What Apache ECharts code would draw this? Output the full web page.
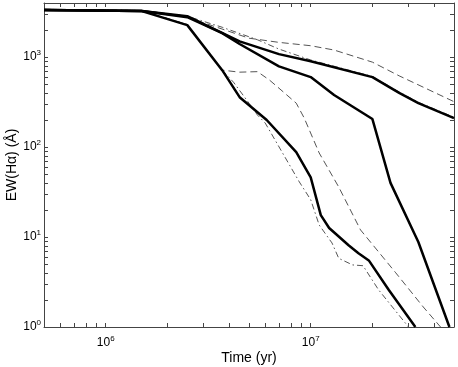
<!DOCTYPE html>
<html>
<head>
<meta charset="UTF-8">
<title>EW(Ha) vs time</title>
<script src="https://cdn.jsdelivr.net/npm/echarts@6/dist/echarts.min.js"></script>
<style>
  html, body { margin: 0; padding: 0; background: #fff; }
</style>
</head>
<body>
    <div id="main" style="width: 458px; height: 367px;"></div>
    <script>
        // [time (yr), EW(Halpha) (A)]
        var solidA = [[5e5, 3350], [1.5e6, 3250], [2.5e6, 2850], [4.5e6, 1500], [7e6, 1080], [1e7, 900],
            [2e7, 600], [2.7e7, 400], [3.35e7, 308], [5e7, 210]];
        var solidB = [[5e5, 3350], [1.5e6, 3250], [2.5e6, 2780], [3.7e6, 1850], [4.5e6, 1400], [7e6, 790],
            [1e7, 600], [1.3e7, 380], [2e7, 205], [2.45e7, 40], [3.35e7, 8.8], [4.75e7, 1]];
        var solidD = [[5e5, 3350], [1.5e6, 3250], [2.5e6, 2270], [3.7e6, 717], [4.5e6, 359], [6.1e6, 200],
            [8.5e6, 88], [1e7, 46], [1.12e7, 17.5], [1.23e7, 12.6], [1.53e7, 8.1], [1.71e7, 6.6],
            [1.92e7, 5.5], [2.4e7, 2.6], [3.24e7, 1]];
        var dashed1 = [[5e5, 3400], [1.5e6, 3300], [2.5e6, 2780], [5e6, 1625], [7e6, 1460], [1e7, 1340],
            [1.3e7, 1200], [2e7, 880], [2.7e7, 620], [5e7, 320]];
        var dashed2 = [[5e5, 3380], [1.5e6, 3280], [2.5e6, 2300], [3.7e6, 717], [4.5e6, 681], [5.5e6, 690],
            [6.3e6, 555], [7e6, 452], [8.5e6, 308], [9.3e6, 210], [1.1e7, 86], [1.37e7, 36],
            [1.75e7, 12], [2.6e7, 4.0], [3.54e7, 1.67], [4.3e7, 1]];
        var dashdot1 = [[5e5, 3400], [1.5e6, 3300], [2.5e6, 2850], [3.7e6, 2150], [5.5e6, 1560], [7e6, 1230],
            [1e7, 930], [2e7, 610], [2.7e7, 410], [3.35e7, 315], [5e7, 215]];
        var dashdot2 = [[5e5, 3380], [1.5e6, 3280], [2.5e6, 2300], [3.7e6, 717], [4.2e6, 527], [5e6, 308],
            [5.5e6, 227], [6e6, 185], [8.8e6, 41], [1e7, 26], [1.1e7, 13.6], [1.27e7, 8.6],
            [1.37e7, 5.8], [1.6e7, 4.9], [1.8e7, 4.8], [2.14e7, 2.6], [3e7, 1]];

        var xLabels = [1e6, 1e7];
        var xTicks = [6e5, 7e5, 8e5, 9e5, 1e6, 2e6, 3e6, 4e6, 5e6, 6e6, 7e6, 8e6, 9e6, 1e7, 2e7, 3e7, 4e7, 5e7];
        var yLabels = [1, 10, 100, 1000];
        var yTicks = [1, 2, 3, 4, 5, 6, 7, 8, 9, 10, 20, 30, 40, 50, 60, 70, 80, 90,
            100, 200, 300, 400, 500, 600, 700, 800, 900, 1000, 2000, 3000, 4000];

        var myChart = echarts.init(document.getElementById("main"));

        var axisColor = '#444';
        var font = 'Liberation Sans, Arial, sans-serif';

        function powLabel(v) {
            return '10{s|' + Math.round(Math.log10(v)) + '}';
        }
        var labelRich = {
            s: { fontSize: 8, fontFamily: font, color: '#000', verticalAlign: 'top', lineHeight: 8 }
        };

        function makeX(pos, withLabels) {
            return {
                type: 'log', logBase: 10, min: 5e5, max: 5e7, position: pos,
                name: withLabels ? 'Time (yr)' : '',
                nameLocation: 'middle', nameGap: 24, nameMoveOverlap: false,
                nameTextStyle: { fontSize: 14, fontFamily: font, color: '#000' },
                axisLine: { show: true, lineStyle: { color: axisColor, width: 1 } },
                axisTick: { show: true, inside: true, length: 4, customValues: xTicks,
                    lineStyle: { color: axisColor } },
                minorTick: { show: false },
                axisLabel: { show: withLabels, customValues: xLabels, formatter: powLabel, margin: 8,
                    fontSize: 12, lineHeight: 16, fontFamily: font, color: '#000', rich: labelRich },
                splitLine: { show: false }
            };
        }
        function makeY(pos, withLabels) {
            return {
                type: 'log', logBase: 10, min: 1, max: 4000, position: pos,
                name: withLabels ? 'EW(Hα) (Å)' : '',
                nameLocation: 'middle', nameGap: 25, nameMoveOverlap: false,
                nameTextStyle: { fontSize: 14, fontFamily: font, color: '#000' },
                axisLine: { show: true, lineStyle: { color: axisColor, width: 1 } },
                axisTick: { show: true, inside: true, length: 4, customValues: yTicks,
                    lineStyle: { color: axisColor } },
                minorTick: { show: false },
                axisLabel: { show: withLabels, customValues: yLabels, formatter: powLabel, margin: 3,
                    fontSize: 12, lineHeight: 16, fontFamily: font, color: '#000', rich: labelRich },
                splitLine: { show: false }
            };
        }

        function line(data, color, width, type, z) {
            return {
                type: 'line', data: data, xAxisIndex: 0, yAxisIndex: 0,
                showSymbol: false, symbol: 'none', smooth: false, z: z,
                lineStyle: { color: color, width: width, type: type }
            };
        }

        var dash = [7, 4];
        var dashDot = [6, 3, 1.5, 3];

        var option = {
            animation: false,
            backgroundColor: '#fff',
            grid: { left: 44, right: 4, top: 3, bottom: 40, containLabel: false, outerBoundsMode: 'none' },
            xAxis: [makeX('bottom', true), makeX('top', false)],
            yAxis: [makeY('left', true), makeY('right', false)],
            series: [
                line(dashed1, '#555', 1, dash, 2),
                line(dashed2, '#555', 1, dash, 2),
                line(dashdot1, '#555', 1, dashDot, 2),
                line(dashdot2, '#555', 1, dashDot, 2),
                line(solidA, '#000', 2.5, 'solid', 3),
                line(solidB, '#000', 2.5, 'solid', 3),
                line(solidD, '#000', 2.5, 'solid', 3)
            ]
        };

        myChart.setOption(option);
    </script>
</body>
</html>
